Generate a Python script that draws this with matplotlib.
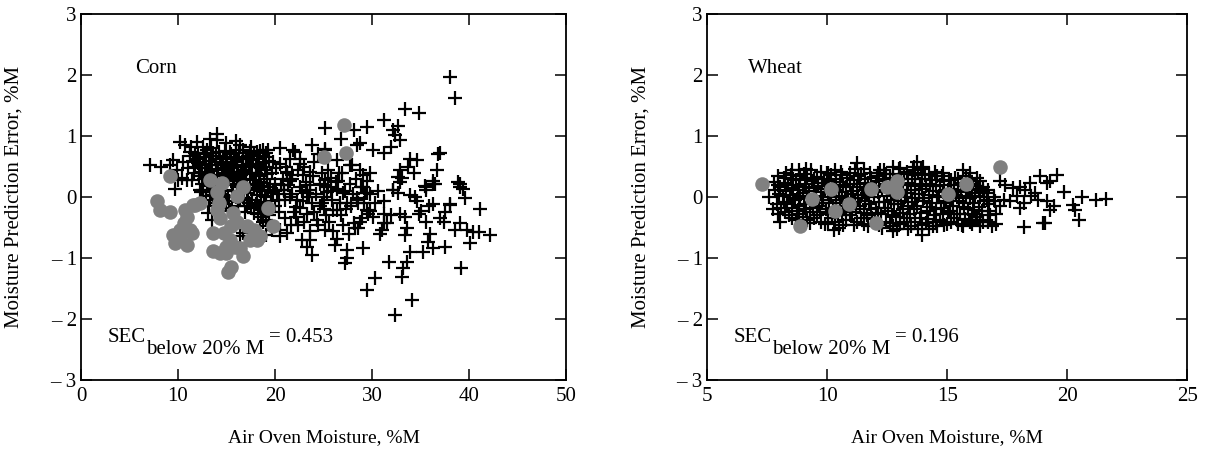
import numpy as np
import matplotlib
matplotlib.use("Agg")
import matplotlib.pyplot as plt

plt.rcParams['font.family'] = ['Liberation Serif', 'DejaVu Serif']

# corn: calibration samples (moisture %M, prediction error %M)
corn_cross = [
    # sparse high-moisture samples
    (38.0, 1.97), (38.5, 1.63), (33.4, 1.45), (34.8, 1.38), (31.2, 1.26), (25.2, 1.13),
    (28.1, 1.10), (29.5, 1.15), (32.7, 1.16), (32.2, 1.10), (32.4, 1.02), (32.9, 0.93),
    (32.0, 0.82), (28.8, 0.88), (28.4, 0.85), (30.1, 0.77), (31.2, 0.72), (36.8, 0.70),
    (36.7, 0.44), (33.9, 0.63), (34.6, 0.61), (33.7, 0.50), (34.3, 0.39), (32.9, 0.44),
    (32.7, 0.33), (33.1, 0.31), (38.9, 0.25), (39.1, 0.17), (36.3, 0.21), (35.5, 0.18),
    (25.2, 0.79), (22.1, 0.74), (22.6, 0.63), (22.6, 0.55), (25.2, 0.77), (26.4, 0.61),
    (27.7, 0.52), (29.1, 0.36), (29.8, 0.39), (21.2, 0.41), (21.7, 0.36), (22.9, 0.36),
    (23.6, 0.41), (24.8, 0.39), (25.8, 0.31), (26.9, 0.39), (22.6, 0.17), (23.6, 0.11),
    (25.0, 0.20), (26.4, 0.14), (27.7, 0.22), (28.9, 0.17), (29.5, 0.06), (28.4, -0.05),
    (27.4, -0.10), (26.4, -0.21), (25.3, -0.30), (24.3, -0.38), (23.3, -0.27), (22.2, -0.16),
    (21.5, 0.00), (20.9, 0.11), (29.5, -0.21), (30.1, -0.32), (31.2, -0.43),
    (32.2, 0.11), (32.9, 0.25), (33.9, 0.03), (34.4, 0.01), (35.6, 0.17), (36.5, 0.22),
    (39.1, 0.22), (39.4, 0.14), (39.6, -0.02), (41.1, -0.19), (42.2, -0.62), (41.0, -0.57),
    (40.1, -0.76), (39.2, -1.17), (37.5, -0.81), (36.3, -0.84), (35.3, -0.90), (33.9, -0.90),
    (33.6, -1.06), (33.2, -1.17), (33.1, -1.31), (31.7, -1.06), (30.3, -1.33), (29.5, -1.52),
    (34.1, -1.69), (32.4, -1.93), (29.1, -0.84), (31.2, -0.27), (31.5, -0.43), (31.0, -0.54),
    (32.9, -0.27), (33.6, -0.51), (33.4, -0.62), (34.8, -0.27), (35.6, -0.40), (36.0, -0.60),
    (35.8, -0.73), (37.0, -0.35), (37.5, -0.24), (38.0, -0.13), (38.6, -0.54), (39.1, -0.43),
    (39.8, -0.54), (40.4, -0.57), (29.6, -0.27), (28.8, -0.40), (37.0, 0.72), (34.6, -0.07),
    (35.0, -0.23), (32.2, 0.12), (32.7, 0.07), (36.3, 0.26), (35.6, 0.12), (38.0, -0.11),
    (36.3, -0.11), (35.9, -0.15), (32.0, -0.29), (33.4, -0.32), (31.2, -0.07), (37.4, -0.40),
    (27.4, -0.86), (27.4, -1.00), (27.2, -1.08), (26.4, -0.69), (26.2, -0.78), (23.6, -0.70),
    (23.8, -0.95), (23.3, -0.82), (22.8, -0.70), (25.2, -0.54), (28.1, -0.43), (28.2, -0.51),
    (29.8, -0.23), (29.5, 0.26), (29.1, 0.17), (29.3, 0.07), (27.9, 0.53), (26.5, 0.26),
    (28.4, -0.02), (28.6, -0.10), (27.0, 0.07), (26.7, -0.10), (26.0, -0.21), (25.2, 0.28),
    (25.5, 0.17), (25.0, 0.01), (24.6, -0.15), (23.9, 0.34), (23.6, 0.20), (23.3, 0.07),
    (22.9, -0.07), (22.6, -0.18), (22.2, -0.32), (22.4, -0.45), (21.9, 0.78), (20.5, 0.80),
    (21.2, 0.39), (21.5, 0.26), (20.9, 0.12), (21.0, -0.04), (21.2, -0.59), (20.5, -0.64),
    (20.5, -0.54), (19.7, -0.54), (19.1, -0.37), (18.6, -0.32), (18.5, -0.15),
    (20.8, 0.30), (21.3, 0.20), (21.8, 0.05), (22.3, -0.05), (22.8, 0.10), (23.2, 0.25),
    (23.8, -0.10), (24.2, 0.05), (24.6, 0.22), (25.0, -0.20), (25.4, 0.08), (25.9, -0.05),
    (26.3, 0.25), (26.8, -0.30), (27.2, 0.10), (27.8, -0.15), (28.3, 0.30), (29.0, -0.35),
    (29.8, 0.05), (30.3, -0.10), (20.4, -0.25), (21.0, -0.35), (21.6, -0.45), (22.0, -0.25),
    (23.0, -0.40), (23.6, -0.55), (24.4, -0.45), (25.6, -0.40), (26.0, -0.55), (27.0, -0.45),
    (27.6, -0.60), (28.6, -0.50), (20.5, 0.55), (21.5, 0.62), (23.0, 0.50), (24.0, 0.58),
    (25.5, 0.45), (20.6, 0.20), (21.1, 0.50), (21.8, 0.30), (22.4, 0.45), (23.5, 0.00),
    (24.0, -0.25), (24.8, -0.10), (25.8, 0.10), (26.6, 0.40), (27.3, -0.20), (28.0, 0.05),
    (28.8, 0.45), (29.2, -0.10), (30.6, 0.10), (30.8, -0.60), (26.8, 0.95), (24.4, 0.70),
    (23.8, 0.85),
    # low-moisture cluster
    (14.0, 1.04), (14.0, 0.93), (10.2, 0.91), (10.7, 0.85), (11.2, 0.74), (11.8, 0.72),
    (12.6, 0.82), (13.0, 0.77), (16.4, 0.85), (16.7, 0.77), (18.1, 0.74), (18.8, 0.77),
    (19.1, 0.72), (7.1, 0.52), (8.3, 0.50), (9.5, 0.61), (9.2, 0.52), (9.7, 0.14),
    (10.4, 0.31), (10.9, 0.28), (11.4, 0.28), (12.4, 0.09), (9.9, 0.45), (10.0, 0.28),
    (11.2, 0.67), (11.8, 0.50), (12.1, 0.56), (13.6, 0.72), (17.4, 0.75), (18.5, 0.75),
    (19.3, 0.78), (12.3, 0.39), (12.3, 0.12), (13.1, -0.26), (13.5, -0.37), (16.1, 0.61),
    (16.7, 0.50), (17.4, 0.39), (18.1, 0.50), (19.0, 0.50), (16.1, 0.17), (16.4, -0.04),
    (17.1, -0.15), (17.8, -0.26), (18.5, 0.12), (19.1, 0.01), (16.4, -0.64), (16.7, -0.59),
    (19.1, -0.62), (18.5, -0.48), (18.8, -0.40),
    (12.0, 0.62), (12.4, 0.48), (12.8, 0.55), (13.2, 0.60), (13.5, 0.45), (13.9, 0.52),
    (14.3, 0.62), (14.6, 0.40), (15.0, 0.55), (15.4, 0.47), (15.8, 0.58), (16.2, 0.42),
    (16.6, 0.52), (17.0, 0.45), (17.5, 0.55), (18.0, 0.40), (18.6, 0.48), (19.2, 0.38),
    (12.2, 0.35), (12.7, 0.30), (13.1, 0.40), (13.6, 0.28), (14.0, 0.35), (14.4, 0.25),
    (14.9, 0.38), (15.3, 0.30), (15.7, 0.22), (16.1, 0.33), (16.5, 0.26), (17.0, 0.30),
    (17.4, 0.20), (17.9, 0.28), (18.3, 0.18), (18.9, 0.24), (19.5, 0.16), (20.0, 0.22),
    (12.6, 0.12), (13.0, 0.18), (13.4, 0.08), (13.8, 0.15), (14.3, 0.05), (14.8, 0.12),
    (15.2, 0.02), (15.6, 0.10), (16.0, 0.00), (16.4, 0.08), (16.8, -0.02), (17.2, 0.06),
    (17.6, -0.05), (18.1, 0.04), (18.6, -0.08), (19.0, 0.02), (19.6, -0.06), (20.2, 0.05),
    (13.2, -0.15), (13.8, -0.10), (14.5, -0.18), (15.0, -0.12), (15.5, -0.22), (16.2, -0.15),
    (16.9, -0.25), (17.5, -0.18), (18.2, -0.28), (18.8, -0.20), (19.4, -0.30), (20.0, -0.15),
    (12.9, 0.72), (13.4, 0.80), (13.9, 0.68), (14.8, 0.75), (15.5, 0.70), (16.0, 0.78),
    (17.0, 0.65), (17.8, 0.70), (18.4, 0.62), (19.0, 0.66), (19.8, 0.58),
    (12.5, 0.22), (13.3, 0.25), (14.1, 0.18), (14.7, 0.30), (15.5, 0.36), (16.3, 0.18),
    (17.1, 0.12), (17.8, 0.15), (18.7, 0.10), (19.3, 0.12),
    (12.1, 0.70), (12.3, 0.58), (12.5, 0.42), (12.7, 0.66), (12.9, 0.48), (13.1, 0.32),
    (13.3, 0.52), (13.5, 0.68), (13.7, 0.36), (13.9, 0.58), (14.1, 0.44), (14.2, 0.74),
    (14.4, 0.56), (14.6, 0.66), (14.7, 0.48), (14.9, 0.30), (15.1, 0.62), (15.2, 0.42),
    (15.4, 0.74), (15.6, 0.52), (15.8, 0.38), (15.9, 0.66), (16.1, 0.50), (16.3, 0.72),
    (16.5, 0.36), (16.7, 0.62), (16.9, 0.42), (17.2, 0.68), (17.3, 0.50), (17.6, 0.38),
    (17.7, 0.62), (18.0, 0.52), (18.2, 0.68), (18.4, 0.34), (18.8, 0.56), (19.1, 0.44),
    (19.4, 0.60), (19.7, 0.40), (20.1, 0.48), (12.9, 0.02), (13.3, -0.05), (13.6, 0.04),
    (14.0, -0.04), (14.6, 0.00), (15.0, 0.20), (15.3, -0.06), (15.8, 0.26), (16.2, -0.08),
    (16.6, 0.16), (17.3, -0.10), (17.7, 0.22), (18.0, -0.12), (18.5, 0.25), (18.9, -0.12),
    (19.2, 0.30), (19.8, 0.08), (20.4, -0.05), (11.0, 0.48), (11.5, 0.60), (11.7, 0.40),
    (10.5, 0.58), (11.3, 0.82), (12.0, 0.90), (13.3, 0.95), (15.0, 0.88), (16.0, 0.92),
    (17.5, 0.82),
]

# corn: samples below 20 %M used for SEC
corn_dot = [
    (9.2, 0.35), (7.8, -0.07), (8.1, -0.21), (9.2, -0.25), (10.7, -0.21), (10.9, -0.32),
    (11.6, -0.13), (10.6, -0.43), (9.5, -0.62), (10.2, -0.54), (11.2, -0.54), (9.7, -0.75),
    (10.9, -0.78), (11.4, -0.59), (10.2, -0.67), (13.3, 0.28), (14.5, 0.24), (14.0, 0.09),
    (14.2, -0.10), (16.1, 0.02), (16.7, 0.17), (15.7, -0.26), (14.0, -0.21), (14.3, -0.34),
    (13.6, -0.59), (14.7, -0.59), (15.5, -0.48), (16.1, -0.40), (13.6, -0.89), (14.3, -0.92),
    (15.0, -0.92), (15.9, -0.81), (16.7, -0.97), (16.4, -0.84), (15.2, -1.22), (15.5, -1.14),
    (17.1, -0.48), (17.8, -0.54), (18.5, -0.64), (17.4, -0.70), (18.1, -0.70), (15.0, -0.81),
    (15.4, -0.70), (19.3, -0.18), (19.8, -0.47), (25.0, 0.66), (27.1, 1.19), (27.3, 0.73),
    (11.8, -0.13), (12.3, -0.10),
]

wheat_cross = [
    (7.60, 0.01), (7.75, -0.20), (7.85, 0.12), (7.80, 0.25), (8.04, -0.40), (8.10, -0.18),
    (8.15, 0.02), (8.05, 0.16), (8.20, 0.32), (8.40, -0.30), (8.35, -0.12), (8.45, 0.04),
    (8.38, 0.20), (8.50, 0.36), (8.55, 0.44), (8.70, -0.38), (8.75, -0.22), (8.68, -0.05),
    (8.80, 0.12), (8.72, 0.28), (8.85, 0.45), (9.00, -0.32), (9.05, -0.12), (8.98, 0.06),
    (9.10, 0.22), (9.02, 0.38), (9.30, -0.42), (9.28, -0.25), (9.35, -0.08), (9.25, 0.10),
    (9.38, 0.26), (9.32, 0.44), (9.60, -0.30), (9.65, -0.15), (9.55, 0.02), (9.62, 0.18),
    (9.58, 0.33), (9.90, -0.44), (9.95, -0.20), (9.85, -0.05), (9.92, 0.14), (9.88, 0.30),
    (9.98, 0.40), (10.20, -0.35), (10.25, -0.18), (10.18, 0.00), (10.22, 0.20), (10.15, 0.36),
    (10.27, -0.54), (10.50, -0.50), (10.45, -0.28), (10.55, -0.10), (10.48, 0.08),
    (10.52, 0.25), (10.58, 0.42), (10.80, -0.38), (10.75, -0.20), (10.85, -0.02),
    (10.78, 0.16), (10.82, 0.32), (11.10, -0.45), (11.05, -0.25), (11.15, -0.08),
    (11.08, 0.10), (11.12, 0.28), (11.18, 0.46), (11.24, 0.56), (11.40, -0.35),
    (11.35, -0.15), (11.45, 0.04), (11.38, 0.22), (11.42, 0.38), (11.70, -0.48),
    (11.65, -0.30), (11.75, -0.12), (11.68, 0.06), (11.72, 0.24), (11.78, 0.40),
    (12.00, -0.36), (12.05, -0.18), (11.95, 0.00), (12.02, 0.18), (12.08, 0.34),
    (12.21, 0.45), (12.30, -0.50), (12.25, -0.28), (12.35, -0.08), (12.28, 0.12),
    (12.32, 0.30), (12.38, 0.44), (12.60, -0.42), (12.55, -0.22), (12.65, -0.04),
    (12.58, 0.15), (12.62, 0.32), (12.76, 0.50), (12.76, -0.56), (12.90, -0.52),
    (12.85, -0.32), (12.95, -0.12), (12.88, 0.08), (12.92, 0.26), (12.98, 0.46),
    (13.20, -0.40), (13.15, -0.20), (13.25, 0.00), (13.18, 0.20), (13.22, 0.38),
    (13.50, -0.48), (13.45, -0.28), (13.55, -0.08), (13.48, 0.12), (13.52, 0.30),
    (13.58, 0.44), (13.74, 0.57), (13.94, -0.62), (13.80, -0.52), (13.85, -0.35),
    (13.75, -0.15), (13.82, 0.05), (13.88, 0.22), (13.78, 0.40), (14.01, 0.50),
    (14.10, -0.42), (14.15, -0.22), (14.05, -0.02), (14.12, 0.18), (14.08, 0.36),
    (14.40, -0.48), (14.45, -0.30), (14.35, -0.10), (14.42, 0.10), (14.38, 0.28),
    (14.48, 0.42), (14.57, -0.48), (14.70, -0.38), (14.75, -0.18), (14.65, 0.02),
    (14.72, 0.20), (14.78, 0.34), (15.00, -0.44), (15.05, -0.25), (14.95, -0.06),
    (15.02, 0.12), (15.08, 0.28), (15.30, -0.35), (15.25, -0.15), (15.35, 0.04),
    (15.28, 0.20), (15.32, 0.32), (15.60, -0.46), (15.68, -0.48), (15.55, -0.28),
    (15.65, -0.10), (15.58, 0.08), (15.62, 0.24), (15.68, 0.45), (15.90, -0.38),
    (15.96, -0.40), (15.85, -0.20), (15.95, -0.02), (15.88, 0.14), (15.92, 0.30),
    (15.96, 0.39), (16.20, -0.32), (16.24, -0.32), (16.10, -0.21), (16.15, 0.02),
    (16.22, 0.18), (16.24, 0.31), (16.50, -0.40), (16.38, -0.48), (16.45, -0.22),
    (16.55, -0.06), (16.48, 0.10), (16.51, 0.17), (16.65, 0.07), (16.65, -0.04),
    (16.80, -0.30), (16.86, -0.48), (16.75, -0.12), (16.93, 0.01),
    (7.95, -0.28), (7.92, -0.12), (7.98, 0.05), (7.94, 0.20), (7.97, 0.34),
    (8.25, -0.25), (8.22, -0.08), (8.28, 0.10), (8.24, 0.24), (8.27, 0.40),
    (8.55, -0.35), (8.52, -0.18), (8.58, -0.02), (8.54, 0.15), (8.57, 0.30),
    (8.85, -0.28), (8.82, -0.14), (8.88, 0.02), (8.84, 0.18), (8.87, 0.35),
    (9.15, -0.38), (9.12, -0.20), (9.18, -0.02), (9.14, 0.16), (9.17, 0.32), (9.13, 0.46),
    (9.45, -0.34), (9.42, -0.18), (9.48, 0.00), (9.44, 0.15), (9.47, 0.30),
    (9.75, -0.40), (9.72, -0.24), (9.78, -0.10), (9.74, 0.08), (9.77, 0.24), (9.73, 0.42),
    (10.05, -0.42), (10.02, -0.28), (10.08, -0.10), (10.04, 0.08), (10.07, 0.26), (10.03, 0.40),
    (10.35, -0.40), (10.38, -0.05), (10.34, 0.12), (10.37, 0.30), (10.33, 0.45),
    (10.65, -0.45), (10.62, -0.30), (10.68, -0.15), (10.64, 0.02), (10.67, 0.20), (10.63, 0.36),
    (10.95, -0.30), (10.98, 0.05), (10.94, 0.22), (10.97, 0.40),
    (11.25, -0.40), (11.22, -0.20), (11.28, -0.02), (11.24, 0.16), (11.27, 0.34),
    (11.55, -0.44), (11.52, -0.26), (11.58, -0.06), (11.54, 0.12), (11.57, 0.30), (11.53, 0.46),
    (11.85, -0.34), (11.82, -0.20), (11.88, 0.14), (11.84, 0.32),
    (12.15, -0.46), (12.12, -0.26), (12.18, -0.08), (12.14, 0.08), (12.17, 0.26), (12.13, 0.40),
    (12.45, -0.40), (12.42, -0.18), (12.48, 0.02), (12.44, 0.22), (12.47, 0.38),
    (12.75, -0.48), (12.72, -0.30), (12.78, -0.12), (12.74, 0.05), (12.77, 0.22), (12.73, 0.38),
    (13.05, -0.44), (13.02, -0.26), (13.08, -0.06), (13.04, 0.12), (13.07, 0.30), (13.03, 0.48),
    (13.35, -0.52), (13.32, -0.34), (13.38, -0.14), (13.34, 0.06), (13.37, 0.24), (13.33, 0.42),
    (13.65, -0.40), (13.62, -0.20), (13.68, -0.02), (13.64, 0.18), (13.67, 0.36), (13.63, 0.50),
    (13.95, -0.46), (13.92, -0.26), (13.98, -0.06), (13.94, 0.14), (13.97, 0.30), (13.93, 0.46),
    (14.25, -0.52), (14.22, -0.36), (14.28, -0.16), (14.24, 0.04), (14.27, 0.22), (14.23, 0.38),
    (14.55, -0.40), (14.52, -0.20), (14.58, 0.00), (14.54, 0.18), (14.57, 0.34),
    (14.85, -0.46), (14.82, -0.28), (14.88, -0.10), (14.84, 0.08), (14.87, 0.26), (14.83, 0.40),
    (15.15, -0.40), (15.12, -0.22), (15.18, -0.02), (15.14, 0.14), (15.17, 0.28),
    (15.45, -0.44), (15.42, -0.28), (15.48, -0.06), (15.44, 0.12), (15.47, 0.30),
    (15.75, -0.36), (15.72, -0.16), (15.78, 0.02), (15.74, 0.18), (15.77, 0.34),
    (16.05, -0.44), (16.02, -0.28), (16.08, -0.10), (16.04, 0.06), (16.07, 0.22),
    (16.35, -0.38), (16.32, -0.16), (16.38, 0.00), (16.34, 0.14), (16.37, 0.26),
    (16.70, -0.22), (16.68, -0.40), (16.72, 0.12), (17.00, -0.06), (17.02, -0.44),
    (17.21, 0.26), (17.42, 0.20), (17.76, 0.15), (18.04, 0.17), (18.25, 0.12),
    (18.46, 0.23), (18.67, 0.07), (18.88, 0.34), (19.15, 0.23), (19.29, 0.26),
    (19.57, 0.37), (19.85, 0.08), (20.26, -0.13), (20.33, -0.21), (20.60, 0.01),
    (20.47, -0.37), (21.20, -0.04), (21.63, -0.03), (18.18, -0.10), (18.04, -0.18),
    (18.18, -0.49), (19.01, -0.43), (19.08, -0.42), (19.15, -0.07), (19.29, -0.21),
    (19.43, -0.15), (17.35, -0.04), (17.63, -0.07), (17.21, -0.15), (17.05, -0.28),
    (18.50, 0.02), (18.80, -0.05), (17.90, 0.02),
]

wheat_dot = [
    (7.28, 0.22), (8.88, -0.48), (9.39, -0.03), (10.16, 0.14), (10.35, -0.23), (10.92, -0.11),
    (11.82, 0.13), (12.04, -0.43), (12.51, 0.16), (12.93, 0.26), (12.93, 0.09), (15.03, 0.05),
    (15.79, 0.22), (17.21, 0.49),
]

panels = [
    ("Corn", corn_cross, corn_dot, (0, 50), [0, 10, 20, 30, 40, 50], "0.453", 0.111),
    ("Wheat", wheat_cross, wheat_dot, (5, 25), [5, 10, 15, 20, 25], "0.196", 0.086),
]
y_ticks = [-3, -2, -1, 0, 1, 2, 3]
y_ticklabels = ["\u2013 3", "\u2013 2", "\u2013 1", "0", "1", "2", "3"]

fig = plt.figure(figsize=(12.19, 4.59), dpi=100)
axes = [fig.add_axes([0.0664, 0.172, 0.398, 0.797]),
        fig.add_axes([0.580, 0.172, 0.394, 0.797])]

for ax, (name, cross, dot, xlim, xticks, sec, name_x) in zip(axes, panels):
    cx, cy = zip(*cross)
    dx, dy = zip(*dot)
    ax.scatter(cx, cy, marker='+', s=95, c='black', linewidths=1.6, zorder=2)
    ax.scatter(dx, dy, marker='o', s=110, c='#808080', linewidths=0, zorder=3)

    ax.set_xlim(*xlim)
    ax.set_ylim(-3, 3)
    ax.set_xticks(xticks)
    ax.set_yticks(y_ticks)
    ax.set_yticklabels(y_ticklabels)
    ax.tick_params(direction='in', length=8, width=1.1, top=True, right=True,
                   labelsize=15)
    ax.tick_params(axis='x', pad=5)
    ax.tick_params(axis='y', pad=3)
    for sp in ax.spines.values():
        sp.set_linewidth(1.3)

    ax.set_xlabel("Air Oven Moisture, %M", fontsize=14)
    ax.set_ylabel("Moisture Prediction Error, %M", fontsize=15)
    ax.xaxis.set_label_coords(0.5, -0.135)
    ax.yaxis.set_label_coords(-0.118, 0.5)

    ax.text(name_x, 0.84, name, transform=ax.transAxes, fontsize=15)
    t1 = ax.text(0.056, 0.104, "SEC", transform=ax.transAxes, fontsize=15)
    t2 = ax.annotate("below 20% M", xy=(1, 0), xycoords=t1, xytext=(0, -8.5),
                     textcoords='offset points', fontsize=15, va='bottom')
    ax.annotate("= " + sec, xy=(1, 0), xycoords=t2, xytext=(3, 8.5),
                textcoords='offset points', fontsize=15, va='bottom')

fig.savefig("out.png", dpi=100)
